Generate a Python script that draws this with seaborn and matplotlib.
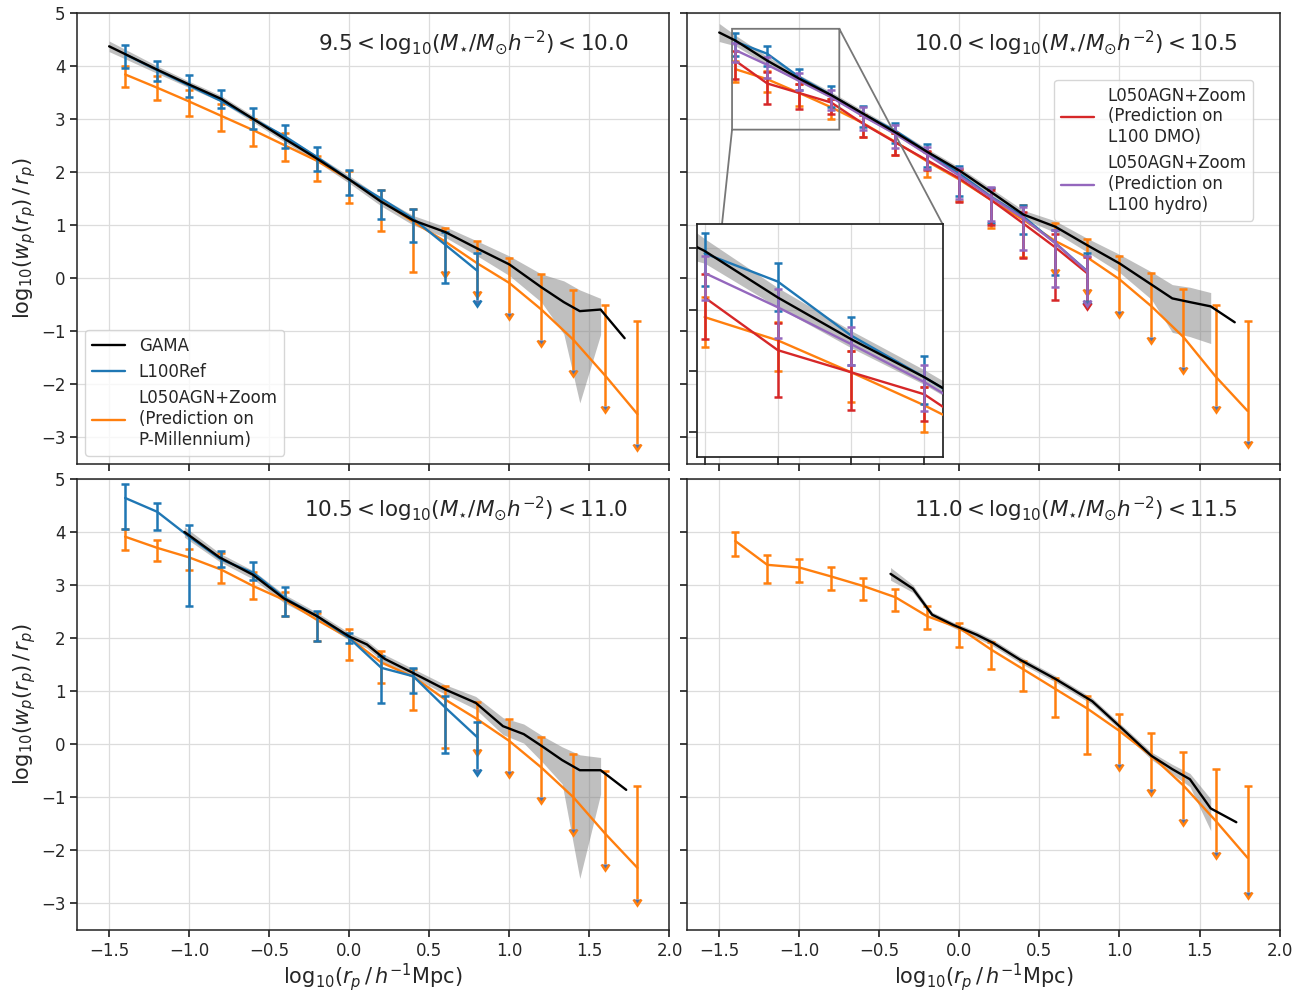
import numpy as np
import seaborn as sns
import matplotlib
matplotlib.use("Agg")
import matplotlib.pyplot as plt

nan = np.nan

# simulation radial bins (log10 rp)
x_sim = [-1.4, -1.2, -1.0, -0.8, -0.6, -0.4, -0.2, 0.0, 0.2, 0.4, 0.6, 0.8, 1.0, 1.2, 1.4, 1.6, 1.8]
x_ref = x_sim[:12]

mass_bins = [r"$9.5 < \mathrm{log}_{10}(M_{\star}/M_{\odot}h^{-2}) < 10.0$",
             r"$10.0 < \mathrm{log}_{10}(M_{\star}/M_{\odot}h^{-2}) < 10.5$",
             r"$10.5 < \mathrm{log}_{10}(M_{\star}/M_{\odot}h^{-2}) < 11.0$",
             r"$11.0 < \mathrm{log}_{10}(M_{\star}/M_{\odot}h^{-2}) < 11.5$"]

# ---- panel 1: 9.5-10.0
gama1_x = [-1.5, -1.2, -1.0, -0.8, -0.6, -0.4, -0.2, 0.0, 0.2, 0.4, 0.6, 0.8, 1.0, 1.2, 1.34, 1.44, 1.57, 1.72]
gama1_y = [4.37, 3.93, 3.65, 3.38, 3.00, 2.62, 2.25, 1.86, 1.44, 1.09, 0.87, 0.56, 0.26, -0.17, -0.45, -0.62, -0.59, -1.13]
gama1_hi = [4.47, 4.00, 3.71, 3.44, 3.06, 2.68, 2.31, 1.93, 1.52, 1.18, 0.97, 0.70, 0.42, 0.08, -0.05, -0.22, -0.38, nan]
gama1_lo = [4.27, 3.86, 3.59, 3.32, 2.94, 2.56, 2.19, 1.79, 1.36, 1.00, 0.77, 0.42, 0.05, -0.45, -1.05, -2.35, -1.06, nan]
ref1_y = [4.22, 3.92, 3.63, 3.34, 3.00, 2.67, 2.28, 1.86, 1.50, 1.12, 0.63, 0.14]
ref1_hi = [4.39, 4.09, 3.83, 3.54, 3.21, 2.88, 2.47, 2.04, 1.67, 1.30, 0.87, 0.47]
ref1_lo = [3.97, 3.71, 3.42, 3.21, 2.81, 2.46, 2.03, 1.56, 1.12, 0.69, -0.09, -0.41]
pm1_y = [3.84, 3.59, 3.33, 3.06, 2.79, 2.50, 2.21, 1.86, 1.47, 1.06, 0.69, 0.28, -0.09, -0.59, -1.16, -1.84, -2.56]
pm1_hi = [4.00, 3.81, 3.55, 3.28, 3.00, 2.74, 2.31, 2.03, 1.66, 1.31, 0.94, 0.71, 0.38, 0.08, -0.23, -0.51, -0.81]
pm1_lo = [3.60, 3.36, 3.06, 2.78, 2.50, 2.21, 1.84, 1.42, 0.89, 0.11, 0.13, -0.25, -0.66, -1.16, -1.72, -2.41, -3.13]

# ---- panel 2: 10.0-10.5
gama2_x = [-1.5, -1.4, -1.2, -1.0, -0.8, -0.6, -0.4, -0.2, 0.0, 0.2, 0.4, 0.6, 0.8, 1.0, 1.2, 1.33, 1.44, 1.57, 1.72]
gama2_y = [4.63, 4.48, 4.10, 3.76, 3.45, 3.10, 2.75, 2.38, 2.03, 1.62, 1.20, 0.97, 0.62, 0.28, -0.12, -0.38, -0.45, -0.53, -0.83]
gama2_hi = [4.80, 4.58, 4.18, 3.83, 3.51, 3.16, 2.81, 2.44, 2.09, 1.69, 1.28, 1.08, 0.75, 0.45, 0.12, -0.12, -0.17, -0.27, nan]
gama2_lo = [4.46, 4.38, 4.02, 3.69, 3.39, 3.04, 2.69, 2.32, 1.97, 1.55, 1.12, 0.86, 0.49, 0.11, -0.40, -1.02, -1.10, -1.23, nan]
ref2_y = [4.46, 4.23, 3.79, 3.45, 3.09, 2.78, 2.38, 1.97, 1.53, 1.16, 0.66, 0.13]
ref2_hi = [4.63, 4.38, 3.94, 3.62, 3.25, 2.93, 2.52, 2.12, 1.70, 1.38, 0.91, 0.47]
ref2_lo = [4.19, 3.99, 3.55, 3.23, 2.85, 2.55, 2.10, 1.55, 1.05, 0.83, 0.06, -0.44]
hydro2_y = [4.30, 4.02, 3.72, 3.41, 3.05, 2.72, 2.33, 1.93, 1.52, 1.13, 0.66, 0.12]
hydro2_hi = [4.44, 4.17, 3.86, 3.55, 3.22, 2.88, 2.48, 2.08, 1.72, 1.34, 0.91, 0.41]
hydro2_lo = [4.08, 3.77, 3.55, 3.17, 2.80, 2.45, 2.05, 1.50, 1.08, 0.53, -0.16, -0.41]
dmo2_y = [4.10, 3.67, 3.49, 3.31, 2.91, 2.56, 2.22, 1.88, 1.47, 1.03, 0.58, 0.09]
dmo2_hi = [4.29, 3.89, 3.66, 3.37, 3.08, 2.74, 2.40, 2.05, 1.66, 1.25, 0.83, 0.40]
dmo2_lo = [3.76, 3.29, 3.18, 3.09, 2.66, 2.33, 2.04, 1.44, 1.00, 0.38, -0.41, -0.47]
pm2_y = [3.94, 3.75, 3.49, 3.22, 2.92, 2.57, 2.20, 1.86, 1.47, 1.10, 0.70, 0.39, -0.02, -0.53, -1.11, -1.85, -2.50]
pm2_hi = [4.10, 3.90, 3.66, 3.37, 3.08, 2.74, 2.38, 2.05, 1.70, 1.38, 1.05, 0.73, 0.41, 0.09, -0.21, -0.51, -0.81]
pm2_lo = [3.70, 3.50, 3.25, 3.00, 2.66, 2.33, 1.90, 1.45, 0.95, 0.40, 0.17, -0.21, -0.62, -1.11, -1.68, -2.41, -3.07]

# ---- panel 3: 10.5-11.0
gama3_x = [-1.03, -0.81, -0.6, -0.41, -0.2, 0.0, 0.11, 0.22, 0.4, 0.6, 0.79, 0.96, 1.09, 1.21, 1.33, 1.44, 1.57, 1.73]
gama3_y = [4.00, 3.52, 3.19, 2.75, 2.41, 2.03, 1.88, 1.61, 1.34, 1.03, 0.78, 0.34, 0.19, -0.05, -0.30, -0.49, -0.49, -0.86]
gama3_hi = [4.10, 3.60, 3.27, 2.83, 2.48, 2.10, 1.95, 1.69, 1.42, 1.12, 0.90, 0.50, 0.38, 0.15, -0.05, -0.20, -0.25, nan]
gama3_lo = [3.90, 3.44, 3.11, 2.67, 2.34, 1.96, 1.81, 1.53, 1.26, 0.94, 0.66, 0.18, 0.02, -0.35, -0.75, -2.53, -0.94, nan]
ref3_y = [4.64, 4.38, 3.91, 3.48, 3.23, 2.75, 2.41, 2.00, 1.44, 1.28, 0.69, 0.13]
ref3_hi = [4.91, 4.54, 4.14, 3.64, 3.43, 2.96, 2.51, 2.09, 1.66, 1.44, 0.91, 0.41]
ref3_lo = [4.06, 4.04, 2.61, 3.34, 3.09, 2.41, 1.94, 1.90, 0.77, 0.97, -0.17, -0.47]
pm3_y = [3.91, 3.70, 3.52, 3.29, 2.98, 2.71, 2.34, 2.00, 1.54, 1.27, 0.84, 0.47, 0.06, -0.44, -1.00, -1.69, -2.33]
pm3_hi = [4.05, 3.84, 3.67, 3.60, 3.25, 2.87, 2.47, 2.17, 1.75, 1.41, 1.09, 0.80, 0.47, 0.14, -0.19, -0.50, -0.79]
pm3_lo = [3.66, 3.46, 3.29, 3.04, 2.73, 2.41, 1.94, 1.59, 1.16, 0.64, -0.08, -0.09, -0.50, -1.00, -1.59, -2.25, -2.91]

# ---- panel 4: 11.0-11.5
gama4_x = [-0.43, -0.29, -0.17, -0.04, 0.11, 0.21, 0.38, 0.6, 0.83, 1.0, 1.2, 1.33, 1.44, 1.57, 1.73]
gama4_y = [3.21, 2.93, 2.44, 2.25, 2.06, 1.91, 1.59, 1.23, 0.81, 0.34, -0.22, -0.47, -0.66, -1.21, -1.47]
gama4_hi = [3.33, 3.00, 2.49, 2.30, 2.12, 1.97, 1.65, 1.29, 0.87, 0.40, -0.15, -0.38, -0.55, -1.03, nan]
gama4_lo = [3.09, 2.86, 2.39, 2.20, 2.00, 1.85, 1.53, 1.17, 0.75, 0.28, -0.29, -0.56, -0.80, -1.63, nan]
pm4_y = [3.83, 3.38, 3.33, 3.16, 2.98, 2.77, 2.41, 2.19, 1.78, 1.41, 1.04, 0.67, 0.25, -0.22, -0.78, -1.44, -2.14]
pm4_hi = [4.00, 3.56, 3.49, 3.33, 3.14, 2.92, 2.61, 2.28, 1.92, 1.56, 1.25, 0.91, 0.56, 0.22, -0.14, -0.47, -0.78]
pm4_lo = [3.55, 3.04, 3.05, 2.91, 2.72, 2.51, 2.17, 1.83, 1.42, 1.00, 0.52, -0.19, -0.38, -0.84, -1.41, -2.03, -2.78]

C_REF, C_PM, C_DMO, C_HYD = "#1f77b4", "#ff7f0e", "#d62728", "#9467bd"
PM_LABEL = "L050AGN+Zoom\n(Prediction on\nP-Millennium)"
DMO_LABEL = "L050AGN+Zoom\n(Prediction on\nL100 DMO)"
HYD_LABEL = "L050AGN+Zoom\n(Prediction on\nL100 hydro)"

sns.set_theme(style="ticks", rc={"axes.grid": True, "grid.color": "#dcdcdc", "grid.linewidth": 0.9,
                                 "axes.edgecolor": "#222222", "xtick.direction": "out", "ytick.direction": "out"})


def gama(ax, x, y, lo, hi, label=None):
    ax.fill_between(x, lo, hi, color="grey", alpha=0.5, lw=0, zorder=2)
    sns.lineplot(x=x, y=y, ax=ax, color="black", lw=1.7, sort=False, label=label, zorder=6)


def series(ax, x, y, lo, hi, color, arrow_from=None, label=None, z=3):
    x, y, lo, hi = map(np.asarray, (x, y, lo, hi))
    sns.lineplot(x=x, y=y, ax=ax, color=color, lw=1.7, sort=False, label=label, zorder=z)
    m = np.zeros(len(x), bool) if arrow_from is None else x >= arrow_from - 1e-9
    kw = dict(fmt="none", ecolor=color, elinewidth=1.8, capsize=3, capthick=1.8, zorder=z)
    ax.errorbar(x[~m], y[~m], yerr=[(y - lo)[~m], (hi - y)[~m]], **kw)
    if m.any():
        ax.errorbar(x[m], hi[m], yerr=[(hi - lo)[m], np.zeros(m.sum())], uplims=True, **kw)


fig, axes = plt.subplots(2, 2, figsize=(13.07, 9.91), dpi=100, sharex=True, sharey=True)
fig.subplots_adjust(left=0.059, right=0.979, top=0.987, bottom=0.0616, wspace=0.03, hspace=0.033)
a1, a2, a3, a4 = axes.ravel()


def panel2(ax):
    gama(ax, gama2_x, gama2_y, gama2_lo, gama2_hi)
    series(ax, x_sim, pm2_y, pm2_lo, pm2_hi, C_PM, arrow_from=0.6, z=3)
    series(ax, x_ref, ref2_y, ref2_lo, ref2_hi, C_REF, arrow_from=0.8, z=4)
    series(ax, x_ref, dmo2_y, dmo2_lo, dmo2_hi, C_DMO, arrow_from=0.8, label=DMO_LABEL, z=4)
    series(ax, x_ref, hydro2_y, hydro2_lo, hydro2_hi, C_HYD, arrow_from=0.8, label=HYD_LABEL, z=5)


# panel 1
gama(a1, gama1_x, gama1_y, gama1_lo, gama1_hi, label="GAMA")
series(a1, x_sim, pm1_y, pm1_lo, pm1_hi, C_PM, arrow_from=0.6, z=3)
series(a1, x_ref, ref1_y, ref1_lo, ref1_hi, C_REF, arrow_from=0.8, z=4)
h, l = a1.get_legend_handles_labels()
a1.legend(h[:1] + [plt.Line2D([], [], color=C_REF, lw=1.7),
                   plt.Line2D([], [], color=C_PM, lw=1.7)],
          ["GAMA", "L100Ref", PM_LABEL], loc="lower left", fontsize=12, framealpha=0.8)

# panel 2 with inset
panel2(a2)
a2.legend(loc="upper right", bbox_to_anchor=(0.97, 0.87), fontsize=12, framealpha=0.8)
axins = a2.inset_axes([0.017, 0.016, 0.414, 0.516])
panel2(axins)
if axins.get_legend():
    axins.get_legend().remove()
axins.set_xlim(-1.42, -0.75)
axins.set_ylim(2.8, 4.7)
axins.set_xticks([-1.4, -1.2, -1.0, -0.8])
axins.set_yticks([3.0, 3.5, 4.0, 4.5])
axins.tick_params(labelleft=False, labelbottom=False)
axins.set_xlabel("")
axins.set_ylabel("")
a2.indicate_inset_zoom(axins, edgecolor="#777777", alpha=1, lw=1.3)

# panel 3
gama(a3, gama3_x, gama3_y, gama3_lo, gama3_hi)
series(a3, x_sim, pm3_y, pm3_lo, pm3_hi, C_PM, arrow_from=0.8, z=3)
series(a3, x_ref, ref3_y, ref3_lo, ref3_hi, C_REF, arrow_from=0.8, z=4)

# panel 4
gama(a4, gama4_x, gama4_y, gama4_lo, gama4_hi)
series(a4, x_sim, pm4_y, pm4_lo, pm4_hi, C_PM, arrow_from=1.0, z=3)

for ax, txt in zip([a1, a2, a3, a4], mass_bins):
    ax.text(0.93, 0.935, txt, transform=ax.transAxes, ha="right", va="center", fontsize=15.5)
    ax.set_xlim(-1.7, 2.0)
    ax.set_ylim(-3.5, 5.0)
    ax.set_xticks(np.arange(-1.5, 2.01, 0.5))
    ax.set_yticks(np.arange(-3, 5.01, 1))
    ax.tick_params(labelsize=12, length=5)
    ax.set_xlabel("")
    ax.set_ylabel("")
    for s in ax.spines.values():
        s.set_linewidth(1.1)
for ax in (a3, a4):
    ax.set_xlabel(r"$\mathrm{log}_{10}(r_p\,/\,h^{-1}\mathrm{Mpc})$", fontsize=15, labelpad=1)
for ax in (a1, a3):
    ax.set_ylabel(r"$\mathrm{log}_{10}(w_p(r_p)\,/\,r_p)$", fontsize=15, labelpad=2)
for ax in (a3, a4):
    if ax.get_legend():
        ax.get_legend().remove()

fig.savefig("out.png", dpi=100)
